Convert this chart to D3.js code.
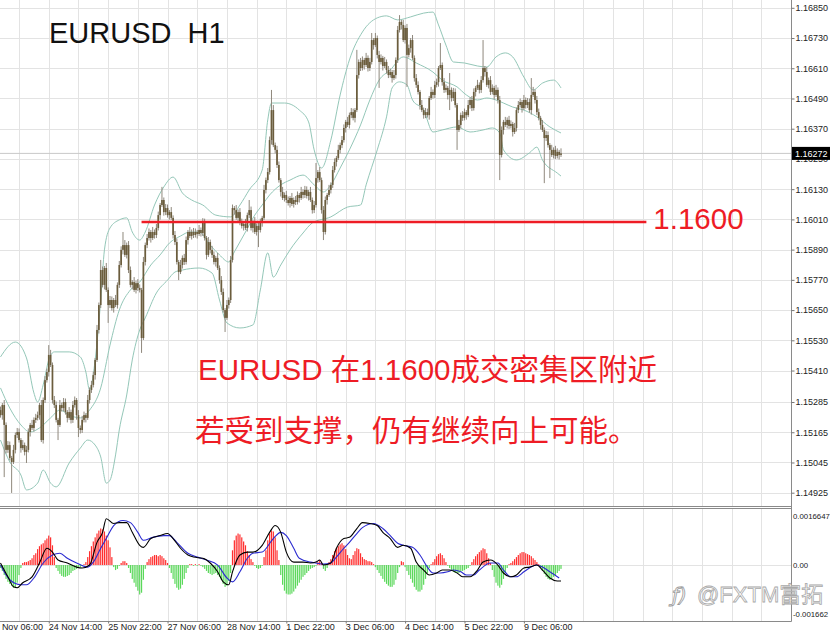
<!DOCTYPE html>
<html><head><meta charset="utf-8">
<script src="https://cdn.jsdelivr.net/npm/d3@7"></script>
<style>
body{margin:0;background:#fff}
svg{display:block}
.ax text{font-family:"Liberation Sans",Arial,sans-serif;font-size:9px;fill:#222}
.ax line{stroke:#777}
.ax path{display:none}
</style>
</head><body>
<svg id="c" width="832" height="632"></svg>
<script>
// ---------- data (H1 candles) ----------
const open=[1.15253,1.15233,1.15273,1.15194,1.15095,1.15114,1.15063,1.15047,1.15095,1.15154,
1.15166,1.15134,1.15102,1.15114,1.15087,1.15095,1.15166,1.15194,1.15182,1.15214,
1.15222,1.15233,1.15273,1.15134,1.15293,1.15372,1.15404,1.15472,1.15432,1.15293,
1.15273,1.15214,1.15194,1.15273,1.15261,1.15285,1.15245,1.15222,1.15245,1.15214,
1.15273,1.15293,1.15233,1.15182,1.15174,1.15214,1.15233,1.15222,1.15293,1.15333,
1.15353,1.15392,1.15452,1.15571,1.15670,1.15809,1.15750,1.15817,1.15730,1.15670,
1.15690,1.15658,1.15690,1.15670,1.15750,1.15829,1.15889,1.15908,1.15869,1.15908,
1.15809,1.15750,1.15761,1.15730,1.15757,1.15738,1.15730,1.15539,1.15841,1.15908,
1.15936,1.15960,1.15936,1.15960,1.15948,1.15976,1.16027,1.16067,1.16087,1.16039,
1.16055,1.16027,1.16039,1.16016,1.15948,1.15920,1.15841,1.15801,1.15829,1.15857,
1.15841,1.15928,1.15960,1.15944,1.15960,1.15948,1.15960,1.15952,1.15968,1.15956,
1.15999,1.15936,1.15869,1.15920,1.15889,1.15869,1.15841,1.15857,1.15817,1.15769,
1.15722,1.15650,1.15619,1.15670,1.15690,1.15849,1.16055,1.16047,1.16016,1.16039,
1.15999,1.15984,1.15992,1.15976,1.16027,1.16047,1.15976,1.15999,1.15960,1.15984,
1.15968,1.15999,1.16016,1.16127,1.16166,1.16198,1.16325,1.16444,1.16305,1.16286,
1.16226,1.16166,1.16119,1.16095,1.16107,1.16087,1.16075,1.16095,1.16071,1.16087,
1.16079,1.16107,1.16095,1.16119,1.16107,1.16127,1.16103,1.16119,1.16087,1.16047,
1.16067,1.16174,1.16198,1.16166,1.16047,1.15960,1.16087,1.16107,1.16127,1.16147,
1.16206,1.16238,1.16254,1.16286,1.16305,1.16325,1.16373,1.16397,1.16385,1.16424,
1.16436,1.16413,1.16444,1.16583,1.16635,1.16611,1.16643,1.16623,1.16651,1.16611,
1.16635,1.16722,1.16702,1.16730,1.16663,1.16635,1.16651,1.16619,1.16635,1.16603,
1.16583,1.16595,1.16571,1.16583,1.16643,1.16762,1.16794,1.16782,1.16722,1.16770,
1.16663,1.16690,1.16722,1.16651,1.16571,1.16544,1.16516,1.16464,1.16444,1.16424,
1.16436,1.16424,1.16492,1.16516,1.16504,1.16544,1.16555,1.16611,1.16623,1.16555,
1.16524,1.16532,1.16504,1.16524,1.16492,1.16516,1.16464,1.16365,1.16385,1.16424,
1.16413,1.16436,1.16424,1.16464,1.16484,1.16452,1.16516,1.16532,1.16544,1.16524,
1.16563,1.16611,1.16595,1.16544,1.16563,1.16516,1.16532,1.16504,1.16524,1.16484,
1.16266,1.16365,1.16397,1.16385,1.16405,1.16381,1.16389,1.16357,1.16373,1.16444,
1.16464,1.16476,1.16452,1.16484,1.16464,1.16476,1.16444,1.16504,1.16516,1.16484,
1.16436,1.16413,1.16385,1.16365,1.16333,1.16345,1.16305,1.16286,1.16266,1.16286,
1.16262,1.16278,1.16266];
const high=[1.15267,1.15281,1.15293,1.15204,1.15130,1.15128,1.15071,1.15115,1.15164,1.15182,
1.15180,1.15142,1.15134,1.15124,1.15111,1.15180,1.15202,1.15214,1.15224,1.15238,
1.15247,1.15281,1.15293,1.15303,1.15388,1.15418,1.15511,1.15492,1.15442,1.15309,
1.15287,1.15222,1.15293,1.15283,1.15301,1.15299,1.15253,1.15265,1.15255,1.15289,
1.15307,1.15301,1.15253,1.15192,1.15230,1.15247,1.15241,1.15313,1.15343,1.15369,
1.15406,1.15460,1.15591,1.15680,1.15849,1.15823,1.15825,1.15837,1.15740,1.15706,
1.15704,1.15698,1.15710,1.15760,1.15845,1.15903,1.15960,1.15928,1.15918,1.15924,
1.15823,1.15769,1.15781,1.15767,1.15773,1.15752,1.15738,1.15861,1.15918,1.15952,
1.15974,1.15968,1.15980,1.15970,1.15992,1.16041,1.16075,1.16139,1.16097,1.16071,
1.16069,1.16047,1.16059,1.16026,1.15964,1.15934,1.15849,1.15849,1.15867,1.15873,
1.15942,1.15968,1.15980,1.15970,1.15976,1.15974,1.15968,1.15988,1.15978,1.16015,
1.16013,1.15944,1.15940,1.15930,1.15905,1.15883,1.15865,1.15877,1.15827,1.15785,
1.15736,1.15658,1.15690,1.15700,1.15865,1.16069,1.16063,1.16067,1.16049,1.16055,
1.16013,1.16000,1.16012,1.16037,1.16087,1.16061,1.16007,1.16019,1.15994,1.16000,
1.16013,1.16024,1.16147,1.16176,1.16214,1.16339,1.16524,1.16464,1.16315,1.16302,
1.16240,1.16174,1.16139,1.16117,1.16123,1.16101,1.16103,1.16115,1.16097,1.16103,
1.16121,1.16115,1.16139,1.16129,1.16143,1.16141,1.16127,1.16139,1.16097,1.16083,
1.16234,1.16206,1.16218,1.16176,1.16063,1.16101,1.16115,1.16147,1.16157,1.16222,
1.16252,1.16262,1.16306,1.16315,1.16341,1.16387,1.16405,1.16417,1.16434,1.16452,
1.16450,1.16452,1.16683,1.16645,1.16651,1.16657,1.16651,1.16671,1.16661,1.16651,
1.16750,1.16730,1.16750,1.16740,1.16679,1.16665,1.16659,1.16655,1.16645,1.16619,
1.16609,1.16603,1.16603,1.16653,1.16778,1.16821,1.16802,1.16802,1.16780,1.16786,
1.16704,1.16730,1.16742,1.16661,1.16587,1.16558,1.16524,1.16484,1.16454,1.16452,
1.16450,1.16500,1.16536,1.16526,1.16560,1.16569,1.16619,1.16710,1.16633,1.16571,
1.16546,1.16540,1.16591,1.16534,1.16532,1.16530,1.16472,1.16405,1.16434,1.16440,
1.16450,1.16444,1.16484,1.16494,1.16500,1.16530,1.16540,1.16564,1.16554,1.16579,
1.16722,1.16619,1.16615,1.16573,1.16579,1.16546,1.16540,1.16544,1.16534,1.16500,
1.16379,1.16405,1.16417,1.16415,1.16421,1.16403,1.16397,1.16393,1.16454,1.16480,
1.16490,1.16484,1.16504,1.16494,1.16492,1.16490,1.16571,1.16536,1.16526,1.16500,
1.16450,1.16421,1.16405,1.16375,1.16361,1.16359,1.16313,1.16306,1.16296,1.16302,
1.16292,1.16286,1.16292];
const low=[1.15223,1.15215,1.14987,1.15081,1.15083,1.15053,1.14924,1.15039,1.15081,1.15142,
1.15124,1.15084,1.15094,1.15073,1.15043,1.15085,1.15148,1.15174,1.15168,1.15202,
1.15212,1.15215,1.15126,1.15120,1.15281,1.15362,1.15386,1.15424,1.15279,1.15261,
1.15204,1.15134,1.15186,1.15247,1.15249,1.15235,1.15204,1.15214,1.15200,1.15202,
1.15263,1.15215,1.15146,1.15160,1.15162,1.15204,1.15204,1.15214,1.15279,1.15321,
1.15343,1.15374,1.15444,1.15557,1.15658,1.15740,1.15732,1.15722,1.15599,1.15658,
1.15648,1.15640,1.15662,1.15656,1.15738,1.15819,1.15871,1.15861,1.15855,1.15797,
1.15740,1.15732,1.15722,1.15716,1.15726,1.15720,1.15480,1.15531,1.15827,1.15896,
1.15926,1.15918,1.15928,1.15934,1.15936,1.15966,1.16009,1.16059,1.16025,1.16027,
1.16017,1.16009,1.16008,1.15934,1.15908,1.15831,1.15769,1.15793,1.15815,1.15829,
1.15831,1.15910,1.15936,1.15930,1.15936,1.15938,1.15934,1.15944,1.15942,1.15944,
1.15926,1.15851,1.15861,1.15875,1.15857,1.15831,1.15823,1.15809,1.15755,1.15710,
1.15640,1.15563,1.15611,1.15656,1.15678,1.15839,1.16029,1.16008,1.16002,1.15987,
1.15974,1.15966,1.15968,1.15962,1.16015,1.15966,1.15958,1.15952,1.15946,1.15900,
1.15958,1.15981,1.16008,1.16113,1.16154,1.16188,1.16307,1.16297,1.16272,1.16214,
1.16156,1.16101,1.16087,1.16081,1.16075,1.16065,1.16057,1.16063,1.16057,1.16067,
1.16069,1.16077,1.16087,1.16093,1.16095,1.16093,1.16085,1.16079,1.16033,1.16035,
1.16057,1.16156,1.16158,1.16033,1.15928,1.15950,1.16069,1.16099,1.16113,1.16135,
1.16196,1.16220,1.16246,1.16272,1.16293,1.16315,1.16355,1.16377,1.16371,1.16412,
1.16403,1.16395,1.16436,1.16569,1.16599,1.16601,1.16605,1.16615,1.16597,1.16599,
1.16625,1.16684,1.16694,1.16649,1.16532,1.16625,1.16601,1.16611,1.16589,1.16571,
1.16573,1.16553,1.16563,1.16569,1.16631,1.16752,1.16764,1.16714,1.16708,1.16536,
1.16653,1.16672,1.16643,1.16557,1.16532,1.16506,1.16446,1.16436,1.16410,1.16412,
1.16414,1.16406,1.16484,1.16490,1.16492,1.16534,1.16537,1.16603,1.16541,1.16512,
1.16514,1.16486,1.16444,1.16478,1.16480,1.16454,1.16286,1.16357,1.16371,1.16401,
1.16403,1.16406,1.16416,1.16450,1.16440,1.16442,1.16498,1.16524,1.16510,1.16512,
1.16553,1.16577,1.16536,1.16530,1.16504,1.16506,1.16486,1.16496,1.16470,1.16166,
1.16256,1.16347,1.16377,1.16371,1.16369,1.16371,1.16339,1.16349,1.16359,1.16432,
1.16454,1.16434,1.16444,1.16450,1.16452,1.16434,1.16426,1.16496,1.16470,1.16424,
1.16403,1.16367,1.16357,1.16154,1.16321,1.16295,1.16174,1.16258,1.16252,1.16250,
1.16252,1.16248,1.16258];
const close=[1.15233,1.15273,1.15194,1.15095,1.15114,1.15063,1.15047,1.15095,1.15154,1.15166,
1.15134,1.15102,1.15114,1.15087,1.15095,1.15166,1.15194,1.15182,1.15214,1.15222,
1.15233,1.15273,1.15134,1.15293,1.15372,1.15404,1.15472,1.15432,1.15293,1.15273,
1.15214,1.15194,1.15273,1.15261,1.15285,1.15245,1.15222,1.15245,1.15214,1.15273,
1.15293,1.15233,1.15182,1.15174,1.15214,1.15233,1.15222,1.15293,1.15333,1.15353,
1.15392,1.15452,1.15571,1.15670,1.15809,1.15750,1.15817,1.15730,1.15670,1.15690,
1.15658,1.15690,1.15670,1.15750,1.15829,1.15889,1.15908,1.15869,1.15908,1.15809,
1.15750,1.15761,1.15730,1.15757,1.15738,1.15730,1.15539,1.15841,1.15908,1.15936,
1.15960,1.15936,1.15960,1.15948,1.15976,1.16027,1.16067,1.16087,1.16039,1.16055,
1.16027,1.16039,1.16016,1.15948,1.15920,1.15841,1.15801,1.15829,1.15857,1.15841,
1.15928,1.15960,1.15944,1.15960,1.15948,1.15960,1.15952,1.15968,1.15956,1.15999,
1.15936,1.15869,1.15920,1.15889,1.15869,1.15841,1.15857,1.15817,1.15769,1.15722,
1.15650,1.15619,1.15670,1.15690,1.15849,1.16055,1.16047,1.16016,1.16039,1.15999,
1.15984,1.15992,1.15976,1.16027,1.16047,1.15976,1.15999,1.15960,1.15984,1.15968,
1.15999,1.16016,1.16127,1.16166,1.16198,1.16325,1.16444,1.16305,1.16286,1.16226,
1.16166,1.16119,1.16095,1.16107,1.16087,1.16075,1.16095,1.16071,1.16087,1.16079,
1.16107,1.16095,1.16119,1.16107,1.16127,1.16103,1.16119,1.16087,1.16047,1.16067,
1.16174,1.16198,1.16166,1.16047,1.15960,1.16087,1.16107,1.16127,1.16147,1.16206,
1.16238,1.16254,1.16286,1.16305,1.16325,1.16373,1.16397,1.16385,1.16424,1.16436,
1.16413,1.16444,1.16583,1.16635,1.16611,1.16643,1.16623,1.16651,1.16611,1.16635,
1.16722,1.16702,1.16730,1.16663,1.16635,1.16651,1.16619,1.16635,1.16603,1.16583,
1.16595,1.16571,1.16583,1.16643,1.16762,1.16794,1.16782,1.16722,1.16770,1.16663,
1.16690,1.16722,1.16651,1.16571,1.16544,1.16516,1.16464,1.16444,1.16424,1.16436,
1.16424,1.16492,1.16516,1.16504,1.16544,1.16555,1.16611,1.16623,1.16555,1.16524,
1.16532,1.16504,1.16524,1.16492,1.16516,1.16464,1.16365,1.16385,1.16424,1.16413,
1.16436,1.16424,1.16464,1.16484,1.16452,1.16516,1.16532,1.16544,1.16524,1.16563,
1.16611,1.16595,1.16544,1.16563,1.16516,1.16532,1.16504,1.16524,1.16484,1.16266,
1.16365,1.16397,1.16385,1.16405,1.16381,1.16389,1.16357,1.16373,1.16444,1.16464,
1.16476,1.16452,1.16484,1.16464,1.16476,1.16444,1.16504,1.16516,1.16484,1.16436,
1.16413,1.16385,1.16365,1.16333,1.16345,1.16305,1.16286,1.16266,1.16286,1.16262,
1.16278,1.16266,1.16272];

// Bollinger bands: [bar index, price] knots
const bbUpper=[[0,1.15464],[8,1.15523],[14,1.15460],[18,1.15321],[20,1.15285],[23,1.15353],[26,1.15452],[29,1.15484],[37,1.15484],[43,1.15464],[46,1.15404],[48,1.15333],[51,1.15452],[54,1.15690],[56,1.15889],[59,1.15976],[64,1.16008],[68,1.16016],[71,1.15960],[75,1.15928],[78,1.15960],[83,1.16067],[88,1.16139],[93,1.16178],[98,1.16115],[103,1.16087],[109,1.16067],[116,1.16027],[124,1.16020],[129,1.16067],[134,1.16127],[141,1.16206],[144,1.16405],[146,1.16472],[153,1.16472],[161,1.16444],[166,1.16397],[169,1.16286],[173,1.16214],[178,1.16325],[183,1.16504],[188,1.16643],[195,1.16754],[203,1.16810],[208,1.16818],[214,1.16802],[221,1.16814],[228,1.16829],[233,1.16833],[236,1.16782],[240,1.16702],[244,1.16635],[250,1.16631],[257,1.16619],[262,1.16615],[267,1.16655],[272,1.16671],[276,1.16655],[282,1.16575],[287,1.16524],[292,1.16551],[298,1.16563],[302,1.16532]];
const bbMiddle=[[0,1.15341],[5,1.15261],[11,1.15194],[16,1.15166],[21,1.15182],[27,1.15222],[32,1.15253],[37,1.15233],[43,1.15222],[48,1.15253],[54,1.15341],[59,1.15511],[64,1.15650],[70,1.15730],[75,1.15761],[81,1.15829],[86,1.15869],[91,1.15916],[97,1.15944],[102,1.15960],[107,1.15960],[113,1.15908],[118,1.15869],[123,1.15841],[126,1.15881],[132,1.15960],[137,1.16027],[141,1.16067],[145,1.16107],[151,1.16147],[156,1.16166],[163,1.16186],[169,1.16147],[174,1.16119],[178,1.16147],[183,1.16214],[188,1.16286],[194,1.16385],[199,1.16484],[204,1.16563],[210,1.16603],[217,1.16655],[224,1.16631],[233,1.16595],[238,1.16563],[246,1.16536],[251,1.16504],[257,1.16484],[262,1.16492],[267,1.16484],[271,1.16472],[276,1.16456],[282,1.16444],[289,1.16417],[296,1.16377],[302,1.16353]];
const bbLower=[[0,1.15134],[5,1.15047],[11,1.14995],[14,1.14936],[20,1.14963],[23,1.15015],[27,1.14963],[30,1.14948],[37,1.15043],[43,1.15102],[47,1.15134],[51,1.15114],[54,1.15067],[57,1.14963],[59,1.14975],[62,1.15075],[64,1.15174],[68,1.15313],[71,1.15452],[75,1.15571],[78,1.15619],[84,1.15718],[90,1.15769],[94,1.15801],[98,1.15809],[107,1.15817],[114,1.15797],[118,1.15690],[122,1.15599],[129,1.15579],[136,1.15591],[140,1.15730],[144,1.15877],[147,1.15781],[151,1.15829],[156,1.15889],[163,1.15956],[168,1.15996],[178,1.16020],[187,1.16059],[194,1.16067],[197,1.16147],[203,1.16286],[208,1.16417],[211,1.16532],[215,1.16556],[219,1.16544],[222,1.16484],[228,1.16444],[233,1.16357],[238,1.16365],[246,1.16377],[253,1.16357],[260,1.16365],[265,1.16373],[269,1.16353],[271,1.16286],[278,1.16246],[285,1.16274],[289,1.16297],[292,1.16246],[300,1.16194],[302,1.16182]];

// sub window: histogram per bar, MACD & signal knots [bar index, value]
const osma=[-0.0001,-0.0002,-0.00034,-0.00047,-0.00057,-0.00064,-0.0007,-0.00077,-0.00074,-0.0006,
-0.00034,-0.0001,0.00007,0.0001,0.0001,0.00013,0.00017,0.00023,0.00034,0.0004,
0.00054,0.00064,0.0007,0.00074,0.00084,0.0009,0.001,0.00094,0.00067,0.00027,
-0.0001,-0.0002,-0.0003,-0.00037,-0.0004,-0.0004,-0.00037,-0.00034,-0.00027,-0.0002,
-0.00017,-0.00013,-0.0001,-0.00007,-0.00003,0.00003,0.0001,0.00027,0.00047,0.00064,
0.0008,0.00094,0.00107,0.00117,0.00124,0.00121,0.00114,0.001,0.00084,0.0006,
0.00027,-0.00007,-0.00017,-0.00013,-0.00003,0.00007,0.00013,0.00013,0.00007,-0.0001,
-0.00027,-0.00047,-0.0006,-0.00074,-0.00087,-0.001,-0.00094,-0.0005,-0.00013,0.0001,
0.0002,0.00027,0.0003,0.00034,0.00034,0.0003,0.00034,0.0003,0.00023,0.00017,
0.00007,-0.0001,-0.00027,-0.00047,-0.00064,-0.00077,-0.00084,-0.0008,-0.00067,-0.00047,
-0.00027,-0.0001,0.00003,0.00003,-0.00003,0.00003,-0.00003,0.00003,-0.00003,-0.00007,
-0.00013,-0.0002,-0.00027,-0.0003,-0.00034,-0.0003,-0.00027,-0.00034,-0.0004,-0.0005,
-0.00064,-0.00074,-0.0007,-0.00054,-0.00027,0.0005,0.00084,0.001,0.00107,0.00104,
0.00094,0.0008,0.00067,0.00047,0.00034,0.0002,0.0001,-0.00003,-0.0001,-0.00013,
-0.0001,-0.00003,0.00027,0.0005,0.00084,0.00107,0.00117,0.00114,0.00094,0.0005,
0.00017,-0.00034,-0.00067,-0.00087,-0.00097,-0.001,-0.001,-0.00097,-0.0009,-0.0008,
-0.0007,-0.0006,-0.0005,-0.0004,-0.00034,-0.00027,-0.0002,-0.00013,-0.0001,-0.00007,
-0.00003,0.0001,0.00017,0.00007,-0.00013,-0.0002,-0.0001,0.0001,0.0002,0.00034,
0.00047,0.00057,0.00064,0.0007,0.00074,0.00067,0.00054,0.00034,0.00023,0.0002,
0.00034,0.00047,0.00057,0.00054,0.0004,0.00027,0.0002,0.00017,0.00013,0.00013,
0.0001,0.00003,-0.00007,-0.00017,-0.00027,-0.00037,-0.00047,-0.00057,-0.00064,-0.0007,
-0.00074,-0.00074,-0.00067,-0.0005,-0.00027,-0.00007,0.00013,0.0001,-0.00007,-0.0002,
-0.00034,-0.00047,-0.0006,-0.00074,-0.00084,-0.0009,-0.0009,-0.00084,-0.00067,-0.00047,
-0.00027,-0.0001,0.00003,0.0001,0.0002,0.0003,0.00037,0.0004,0.00034,0.00023,
0.0001,-0.00003,-0.0001,-0.00017,-0.00023,-0.00027,-0.00027,-0.00027,-0.00023,-0.0002,
-0.00017,-0.00013,-0.0001,-0.00003,0.0001,0.0002,0.0003,0.00037,0.00044,0.0005,
0.00057,0.00054,0.0004,0.00023,0.00007,-0.00017,-0.0004,-0.0006,-0.0007,-0.00077,
-0.00067,-0.00047,-0.00027,-0.0001,0.00003,0.00007,0.00013,0.0002,0.00027,0.00034,
0.0004,0.00044,0.00044,0.0004,0.00037,0.00034,0.0003,0.00023,0.00017,0.0001,
0.00003,-0.0001,-0.0002,-0.0003,-0.0004,-0.00047,-0.0005,-0.00047,-0.0004,-0.00034,
-0.00027,-0.0002,-0.00013];
const macdMain=[[0,0.00007],[4,-0.0004],[7,-0.00074],[9,-0.00077],[12,-0.0006],[17,-0.0004],[21,0.00007],[25,0.00057],[28,0.00044],[31,0.00017],[36,0.00007],[41,-0.00007],[44,-0.0001],[48,0],[52,0.00077],[55,0.00111],[57,0.00157],[61,0.00141],[64,0.00144],[68,0.00144],[71,0.00111],[75,0.00067],[77,0.0006],[81,0.0009],[86,0.001],[90,0.00107],[93,0.0009],[97,0.00057],[101,0.00034],[104,0.00027],[109,0.00023],[113,0.00007],[117,-0.00023],[120,-0.00057],[123,-0.00067],[125,-0.00023],[129,0.00034],[133,0.00044],[136,0.00044],[141,0.00067],[145,0.00111],[148,0.00134],[151,0.00111],[154,0.00044],[158,0.0001],[161,0.0001],[163,0.0001],[167,0.00007],[170,0.0001],[172,0.00017],[174,0],[178,0.00007],[181,0.00057],[185,0.0009],[188,0.00094],[192,0.00124],[195,0.00144],[199,0.00141],[203,0.00134],[206,0.00111],[210,0.0009],[214,0.0006],[217,0.00067],[221,0.00057],[224,0.0001],[228,-0.00017],[231,-0.00034],[235,-0.00027],[238,-0.00017],[242,-0.00017],[246,-0.00027],[249,-0.0004],[253,-0.0004],[257,-0.00017],[260,0.0001],[264,0.00017],[268,0],[271,-0.00027],[275,-0.0004],[278,-0.00034],[282,-0.0001],[285,-0.00007],[289,0],[292,-0.00017],[296,-0.00044],[300,-0.00054],[302,-0.00054]];
const macdSignal=[[0,0],[5,-0.0005],[11,-0.00067],[14,-0.00067],[18,-0.00044],[23,0.00007],[28,0.00034],[32,0.0004],[36,0.00023],[41,0.00007],[47,-0.00007],[50,0.0001],[54,0.00057],[57,0.0009],[61,0.00134],[66,0.00151],[70,0.00144],[74,0.00111],[77,0.00084],[82,0.00094],[88,0.001],[91,0.001],[95,0.00077],[101,0.0004],[106,0.00027],[111,0.00017],[117,0],[122,-0.00044],[125,-0.00057],[129,-0.00023],[133,0.00023],[136,0.0004],[141,0.00044],[147,0.0009],[151,0.00111],[154,0.001],[158,0.00057],[161,0.00023],[167,0.0001],[170,0.00007],[174,0.00003],[178,0.00007],[181,0.00027],[185,0.00057],[188,0.00077],[192,0.00107],[195,0.00127],[201,0.00141],[206,0.00124],[210,0.001],[214,0.00074],[217,0.00067],[222,0.0006],[226,0.00034],[230,-0.00007],[233,-0.00027],[237,-0.00027],[241,-0.00023],[244,-0.00017],[248,-0.00023],[251,-0.00034],[255,-0.00034],[258,-0.00017],[264,0.00007],[268,0.00007],[271,-0.00017],[275,-0.0004],[278,-0.0004],[282,-0.00023],[285,-0.0001],[289,0],[292,-0.00007],[296,-0.00023],[301,-0.00044]];

// axis ticks
const priceTicks=[1.16850,1.16730,1.16610,1.16490,1.16370,1.16250,1.16130,1.16010,1.15890,1.15770,1.15650,1.15530,1.15410,1.15285,1.15165,1.15045,1.14925];
const priceTickLabels=["1.16850","1.16730","1.16610","1.16490","1.16370","1.16250","1.16130","1.16010","1.15890","1.15770","1.15650","1.15530","1.15410","1.15285","1.15165","1.15045","1.14925"];
const subTicks=[0.0016647,0,-0.001662];
const subTickLabels=["0.0016647","0.00","-0.001662"];
const timeTickBars=[-6,26,58,90,122,154,186,218,250,282];
const timeTickLabels=["23 Nov 06:00","24 Nov 14:00","25 Nov 22:00","27 Nov 06:00","28 Nov 14:00","1 Dec 22:00","3 Dec 06:00","4 Dec 14:00","5 Dec 22:00","9 Dec 06:00"];
const lastPrice=1.16272, lastPriceLabel="1.16272";
const supportLevel=1.16, supportLabel="1.1600", supportFromBar=76, supportToBar=348;
const titleText="EURUSD  H1";
const note1="EURUSD 在1.1600成交密集区附近";
const note2="若受到支撑，仍有继续向上可能。";
const watermark="@FXTM富拓";

// ---------- layout ----------
const W=832,H=632,plotR=791,mainB=506,subT=508,subB=621;
const svg=d3.select('#c');
svg.append('rect').attr('width',W).attr('height',H).attr('fill','#fff');
const x=d3.scaleLinear().domain([0,302]).range([0.5,561]);
const y=d3.scaleLinear().domain([1.148722,1.16881]).range([mainB,0]);
const ys=d3.scaleLinear().domain([-0.001662,0.0016647]).range([614,516]);

const defs=svg.append('defs');
defs.append('clipPath').attr('id','cm').append('rect').attr('x',0).attr('y',0).attr('width',plotR).attr('height',mainB);
defs.append('clipPath').attr('id','cs').append('rect').attr('x',0).attr('y',subT).attr('width',plotR).attr('height',subB-subT);

// grid
const gridBars=d3.range(10,420,16);
const grid=svg.append('g').attr('stroke','#e3e3e3').attr('stroke-width',1);
grid.selectAll('.vg').data(gridBars).join('line').attr('x1',d=>Math.round(x(d))+0.5).attr('x2',d=>Math.round(x(d))+0.5).attr('y1',0).attr('y2',mainB);
grid.selectAll('.vs').data(gridBars).join('line').attr('x1',d=>Math.round(x(d))+0.5).attr('x2',d=>Math.round(x(d))+0.5).attr('y1',subT).attr('y2',subB);
grid.selectAll('.hg').data(priceTicks).join('line').attr('x1',0).attr('x2',plotR).attr('y1',d=>Math.round(y(d))+0.5).attr('y2',d=>Math.round(y(d))+0.5);
grid.append('line').attr('x1',0).attr('x2',plotR).attr('y1',Math.round(ys(0))+0.5).attr('y2',Math.round(ys(0))+0.5);

// main pane
const gm=svg.append('g').attr('clip-path','url(#cm)');
gm.append('line').attr('x1',0).attr('x2',plotR).attr('y1',y(lastPrice)).attr('y2',y(lastPrice)).attr('stroke','#c9c9c9');
const bbLine=d3.line().x(d=>x(d[0])).y(d=>y(d[1])).curve(d3.curveMonotoneX);
[bbUpper,bbMiddle,bbLower].forEach(b=>{
  gm.append('path').attr('d',bbLine(b)).attr('fill','none').attr('stroke','#94c7b8').attr('stroke-width',1);
});
const idx=d3.range(close.length);
gm.append('g').selectAll('line').data(idx).join('line')
  .attr('x1',i=>x(i)).attr('x2',i=>x(i)).attr('y1',i=>y(high[i])).attr('y2',i=>y(low[i]))
  .attr('stroke','#8f887c').attr('stroke-width',1);
gm.append('g').selectAll('rect').data(idx).join('rect')
  .attr('x',i=>x(i)-0.85).attr('width',1.7)
  .attr('y',i=>y(Math.max(open[i],close[i])))
  .attr('height',i=>Math.max(1,Math.abs(y(open[i])-y(close[i]))))
  .attr('fill','#6b5d3d');
gm.append('line').attr('x1',x(supportFromBar)).attr('x2',x(supportToBar)).attr('y1',y(supportLevel)).attr('y2',y(supportLevel))
  .attr('stroke','#ee1c25').attr('stroke-width',2.5);
svg.append('text').attr('x',x(supportToBar)+7).attr('y',y(supportLevel)+7).text(supportLabel)
  .attr('font-family','"Liberation Sans",Arial,sans-serif').attr('font-size',29.5).attr('fill','#ee1c25');

// titles & notes
svg.append('text').attr('x',49).attr('y',43).text(titleText).style('white-space','pre')
  .attr('font-family','"Liberation Sans",Arial,sans-serif').attr('font-size',29).attr('fill','#111');
const noteFont='"Liberation Sans",Arial,"Noto Sans CJK SC",sans-serif';
svg.append('text').attr('x',198).attr('y',380).text(note1).attr('font-family',noteFont).attr('font-size',29.5).attr('fill','#ee1c25');
svg.append('text').attr('x',195).attr('y',441).text(note2).attr('font-family',noteFont).attr('font-size',29.5).attr('fill','#ee1c25');

// sub pane
const gs=svg.append('g').attr('clip-path','url(#cs)');
gs.append('g').selectAll('rect').data(idx).join('rect')
  .attr('x',i=>x(i)-0.6).attr('width',1.2)
  .attr('y',i=>Math.min(ys(0),ys(osma[i])))
  .attr('height',i=>Math.abs(ys(osma[i])-ys(0)))
  .attr('fill',i=>osma[i]>=0?'#ff2e2e':'#5bd85b');
const mLine=d3.line().x(d=>x(d[0])).y(d=>ys(d[1])).curve(d3.curveMonotoneX);
gs.append('path').attr('d',mLine(macdSignal)).attr('fill','none').attr('stroke','#2a2ad0').attr('stroke-width',1.1);
gs.append('path').attr('d',mLine(macdMain)).attr('fill','none').attr('stroke','#000').attr('stroke-width',1.1);

// frame lines
const fr=svg.append('g').attr('stroke','#8a8a8a');
fr.append('line').attr('x1',0).attr('x2',plotR).attr('y1',506.5).attr('y2',506.5);
fr.append('line').attr('x1',0).attr('x2',plotR).attr('y1',508.5).attr('y2',508.5);
fr.append('line').attr('x1',0).attr('x2',plotR+0.5).attr('y1',subB+0.5).attr('y2',subB+0.5);
fr.append('line').attr('x1',plotR+0.5).attr('x2',plotR+0.5).attr('y1',0).attr('y2',subB+0.5);

// axes
svg.append('g').attr('class','ax').attr('transform',`translate(${plotR+0.5},0)`)
  .call(d3.axisRight(y).tickValues(priceTicks).tickFormat((d,i)=>priceTickLabels[i]).tickSize(3).tickPadding(1));
const ysa=svg.append('g').attr('class','ax').attr('transform',`translate(${plotR+0.5},0)`)
  .call(d3.axisRight(ys).tickValues(subTicks).tickFormat((d,i)=>subTickLabels[i]).tickSize(0).tickPadding(1.5));
ysa.selectAll('text').style('font-size','7.8px');
const xa=svg.append('g').attr('class','ax').attr('transform',`translate(0,${subB+0.5})`)
  .call(d3.axisBottom(x).tickValues(timeTickBars).tickFormat((d,i)=>timeTickLabels[i]).tickSize(2).tickPadding(0));
xa.selectAll('text').attr('text-anchor','start').attr('x',-0.5);

// last price box
const yp=y(lastPrice);
svg.append('rect').attr('x',plotR+1).attr('y',yp-6.5).attr('width',38).attr('height',13).attr('fill','#000');
svg.append('text').attr('x',plotR+4).attr('y',yp+3.2).text(lastPriceLabel)
  .attr('font-family','"Liberation Sans",Arial,sans-serif').attr('font-size',9).attr('fill','#fff');

// watermark
svg.append('text').attr('x',672).attr('y',602).text('ƒ)').attr('font-family','"DejaVu Sans",sans-serif').attr('font-size',20)
  .attr('fill','#fff').attr('stroke','#9a9a9a').attr('stroke-width',0.8).attr('font-style','italic');
svg.append('text').attr('x',697).attr('y',602).text(watermark).attr('font-family',noteFont).attr('font-size',22)
  .attr('fill','#fff').attr('fill-opacity',0.6).attr('stroke','#a8a8a8').attr('stroke-width',0.8);
</script>
</body></html>
